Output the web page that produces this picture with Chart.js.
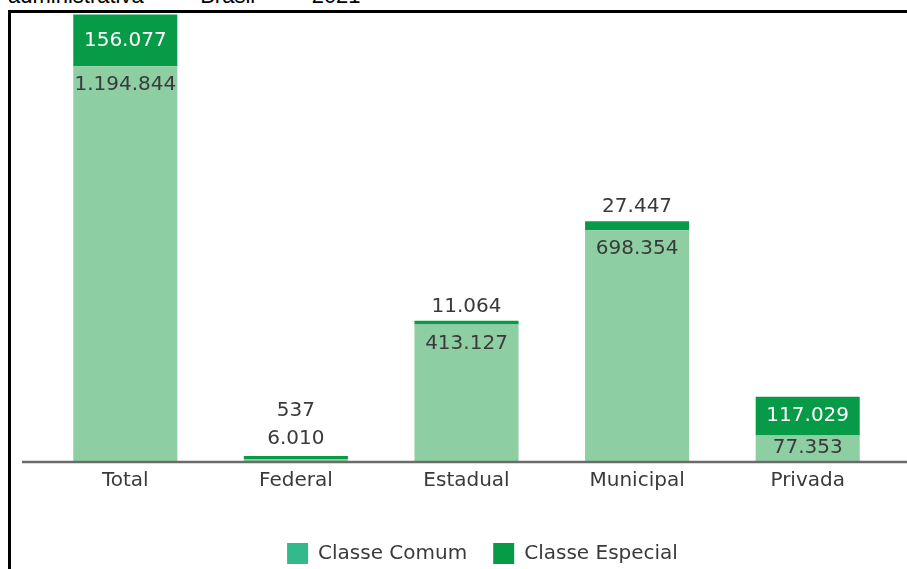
<!DOCTYPE html>
<html>
<head>
<meta charset="utf-8">
<script src="https://cdn.jsdelivr.net/npm/chart.js@4.4.1/dist/chart.umd.min.js"></script>
<style>
  html, body { margin: 0; padding: 0; background: #fff; overflow: hidden; }
  #wrap { position: relative; width: 907px; height: 569px; overflow: hidden; }
  #title {
    position: absolute; left: 8px; top: -15px; white-space: nowrap;
    font: 22px/22px "Liberation Sans", Arial, sans-serif; color: #000; word-spacing: 16px;
  }
  #box {
    position: absolute; left: 8px; top: 10px; width: 1000px; height: 700px;
    border-left: 3px solid #000; border-top: 3px solid #000;
  }
  #chart { position: absolute; left: 0; top: 0; }
</style>
</head>
<body>
<div id="wrap">
  <div id="title">administrativa – Brasil – 2021</div>
  <div id="box"></div>
  <canvas id="chart" width="907" height="569"></canvas>
</div>
<script>
// --- dados (matrículas por dependência administrativa) ---
const categories = ['Total', 'Federal', 'Estadual', 'Municipal', 'Privada'];
const comumValues = [1194844, 6010, 413127, 698354, 77353];
const especialValues = [156077, 537, 11064, 27447, 117029];
const seriesNames = ['Classe Comum', 'Classe Especial'];

const LIGHT = '#8dcea3';
const DARK = '#079b48';
const LEGEND_LIGHT = '#33b98b';
const TEXT = '#3a3a3a';
const FONT = '"DejaVu Sans", sans-serif';

function fmt(v) {
    return String(v).replace(/\B(?=(\d{3})+(?!\d))/g, '.');
}

// rótulos de valor + linha de base
const valueLabels = {
    id: 'valueLabels',
    afterLayout(chart) {
        // legenda um pouco deslocada para a direita, como no original
        chart.legend.left += 32;
    },
    afterDatasetsDraw(chart) {
        const ctx = chart.ctx;
        const comum = chart.getDatasetMeta(0).data;
        const especial = chart.getDatasetMeta(1).data;
        const y0 = chart.scales.y.getPixelForValue(0);

        ctx.save();
        ctx.strokeStyle = '#6b6b6b';
        ctx.lineWidth = 2.5;
        ctx.beginPath();
        ctx.moveTo(22, y0 + 1);
        ctx.lineTo(chart.width, y0 + 1);
        ctx.stroke();

        ctx.font = '20px ' + FONT;
        ctx.textAlign = 'center';
        ctx.textBaseline = 'middle';
        comum.forEach((bar, i) => {
            const e = especial[i];
            const h = bar.base - bar.y;
            let y, above = false;
            if (h > 40) y = bar.y + 19;
            else if (h > 20) y = (bar.y + bar.base) / 2;
            else { y = bar.y - 20; above = true; }
            ctx.fillStyle = TEXT;
            ctx.fillText(fmt(comumValues[i]), bar.x, y);

            const eh = e.base - e.y;
            if (eh > 30) {
                ctx.fillStyle = '#ffffff';
                ctx.fillText(fmt(especialValues[i]), e.x, (e.y + e.base) / 2);
            } else {
                ctx.fillStyle = TEXT;
                ctx.fillText(fmt(especialValues[i]), e.x, above ? bar.y - 48 : e.y - 14);
            }
        });
        ctx.restore();
    }
};

new Chart(document.getElementById('chart').getContext('2d'), {
    type: 'bar',
    data: {
        labels: categories,
        datasets: [
            { label: seriesNames[0], data: comumValues, backgroundColor: LIGHT, borderWidth: 0 },
            { label: seriesNames[1], data: especialValues, backgroundColor: DARK, borderWidth: 0, minBarLength: 3 }
        ]
    },
    options: {
        responsive: false,
        animation: false,
        layout: { padding: { left: 40, right: 14, top: 5, bottom: -5 } },
        datasets: { bar: { categoryPercentage: 1, barPercentage: 0.61 } },
        scales: {
            x: {
                stacked: true,
                grid: { display: false, drawTicks: false },
                border: { display: false },
                ticks: { padding: 8, color: TEXT, font: { family: FONT, size: 20 } },
                afterFit: (scale) => { scale.height += 16; }
            },
            y: { stacked: true, display: false, min: 0, max: 1380000 }
        },
        plugins: {
            tooltip: { enabled: false },
            legend: {
                position: 'bottom',
                labels: {
                    boxWidth: 21, boxHeight: 21, padding: 26,
                    color: TEXT, font: { family: FONT, size: 20 },
                    generateLabels: (chart) => {
                        const items = Chart.defaults.plugins.legend.labels.generateLabels(chart);
                        items[0].fillStyle = LEGEND_LIGHT;
                        items.forEach(it => { it.lineWidth = 0; it.strokeStyle = 'transparent'; });
                        return items;
                    }
                }
            }
        }
    },
    plugins: [valueLabels]
});
</script>
</body>
</html>
